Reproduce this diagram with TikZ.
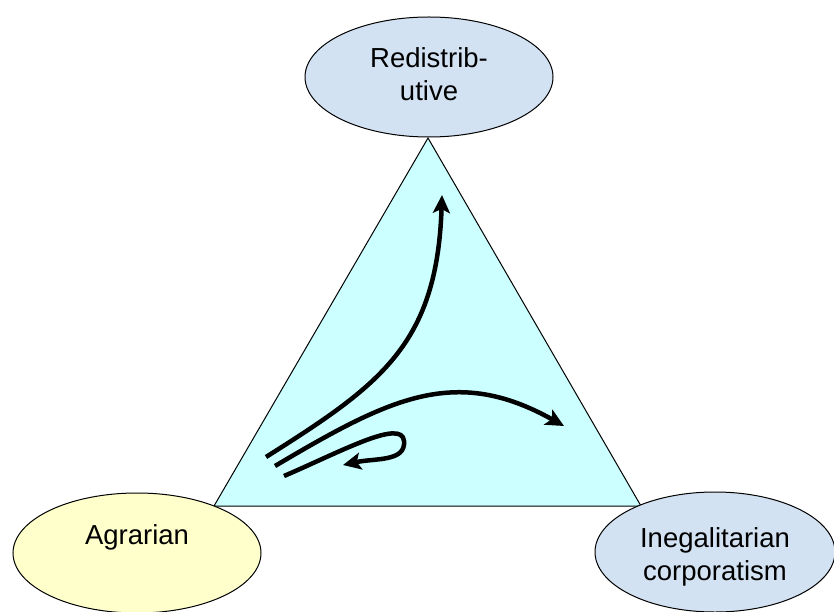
\documentclass[tikz,border=0pt]{standalone}
\usepackage{fontspec}
\setmainfont{Liberation Sans}
\usetikzlibrary{shapes.geometric,arrows.meta}
\definecolor{tri}{HTML}{CCFFFF}
\definecolor{bluefill}{HTML}{D3E2F2}
\definecolor{yellowfill}{HTML}{FFFFCC}
\tikzset{
  labelfont/.style={font=\fontsize{27.5}{33}\selectfont, align=center, inner sep=0pt},
  pole/.style={ellipse, draw=black, line width=1pt, minimum width=248pt, minimum height=120pt,
    inner sep=0pt},
  path arrow/.style={line width=4.5pt, -{Stealth[length=18pt,width=17pt,inset=4pt]}},
}
\begin{document}
\begin{tikzpicture}[x=1pt,y=-1pt]
\useasboundingbox (0,0) rectangle (834,612);
% triangle
\coordinate (apex) at (428,138);
\coordinate (bl) at (214,506);
\coordinate (br) at (641,506);
\fill[tri] (apex) -- (bl) -- (br) -- cycle;
\draw[line width=1pt, line join=miter] (apex) -- (bl) -- (br) -- cycle;
% poles
\node[pole, fill=bluefill] (redis) at (429,77) {};
\node[labelfont] (redistext) at (429,74) {Redistrib-\\utive};
\node[pole, fill=yellowfill, minimum width=248pt] (agr) at (137,553) {};
\node[labelfont] (agrtext) at (137,537) {Agrarian};
\node[pole, fill=bluefill, minimum width=240pt] (ineg) at (715,552) {};
\node[labelfont] (inegtext) at (715,557) {Inegalitarian\\corporatism};
% trajectories
\coordinate (s1) at (266,457);
\coordinate (e1) at (442,195);
\coordinate (s2) at (275,466);
\coordinate (e2) at (564,426);
\coordinate (s3) at (284,476);
\coordinate (m3) at (404,441);
\coordinate (e3) at (343,465);
\draw[path arrow] (s1) .. controls (380,385) and (437,345) .. (e1);
\draw[path arrow] (s2) .. controls (390,398) and (455,365) .. (e2);
\draw[path arrow] (s3) .. controls (340,452) and (402,418) .. (m3)
   .. controls (406,462) and (375,458) .. (e3);
\end{tikzpicture}
\end{document}
